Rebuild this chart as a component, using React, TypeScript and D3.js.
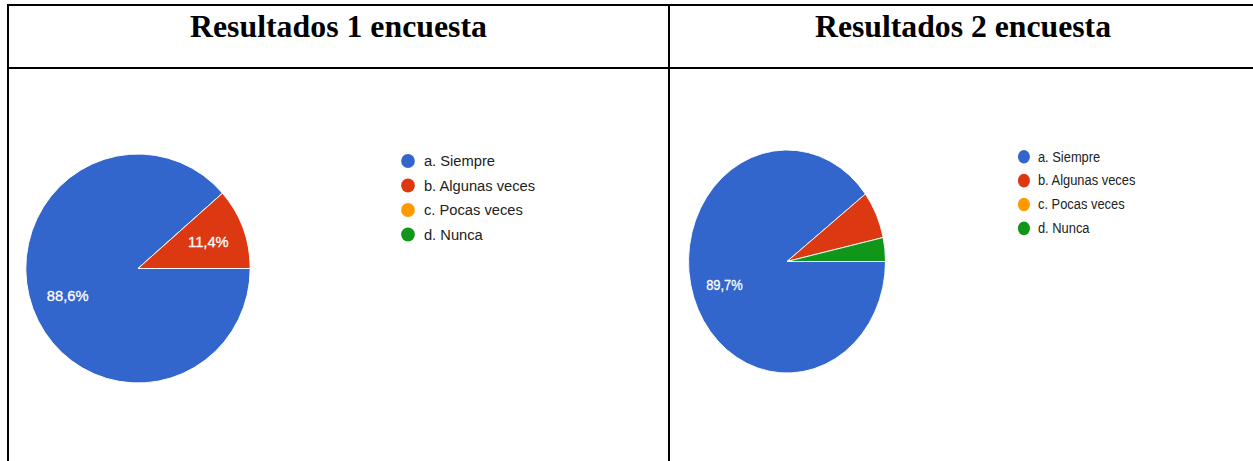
import React from "react";
import * as d3 from "d3";

const categories = ["a. Siempre", "b. Algunas veces", "c. Pocas veces", "d. Nunca"];
const colors = ["#3366cc", "#dc3912", "#ff9900", "#109618"];
const titles = ["Resultados 1 encuesta", "Resultados 2 encuesta"];
const survey1 = [31, 4, 0, 0];
const survey2 = [26, 2, 0, 1];

const W = 1253;
const H = 461;
const R = 114.5;

type ChartProps = { values: number[]; cx: number; cy: number; sx: number; sy: number };

function Pie({ values, cx, cy, sx, sy }: ChartProps) {
  const total = d3.sum(values);
  const pie = d3
    .pie<number>()
    .sort(null)
    .value((d) => d)
    .startAngle(Math.PI / 2)
    .endAngle(Math.PI / 2 + 2 * Math.PI);
  const arcs = pie(values);
  const arc = d3.arc<d3.PieArcDatum<number>>().innerRadius(0).outerRadius(R);
  const labelArc = d3.arc<d3.PieArcDatum<number>>().innerRadius(R * 0.67).outerRadius(R * 0.67);
  const fmt = (v: number) => ((v / total) * 100).toFixed(1).replace(".", ",") + "%";
  const legendY = d3.scalePoint<string>().domain(categories).range([-107.5, -107.5 + 24.5 * 3]);
  return (
    <g transform={`translate(${cx},${cy}) scale(${sx},${sy})`}>
      {arcs.map((a, i) =>
        a.value > 0 ? (
          <path key={i} d={arc(a) || ""} fill={colors[i]} stroke="#ffffff" strokeWidth={1} />
        ) : null
      )}
      {arcs.map((a, i) => {
        if (a.value / total < 0.1) return null;
        const [x, y] = labelArc.centroid(a);
        return (
          <text
            key={"l" + i}
            x={x}
            y={y}
            fill="#ffffff"
            stroke="#ffffff"
            strokeWidth={0.3}
            fontFamily="Arial, 'Liberation Sans', sans-serif"
            fontSize={15}
            textAnchor="middle"
            dominantBaseline="central"
          >
            {fmt(a.value)}
          </text>
        );
      })}
      {categories.map((c, i) => (
        <g key={"g" + i} transform={`translate(275.5,${legendY(c)})`}>
          <circle r={7} fill={colors[i]} />
          <text
            x={16.3}
            y={0}
            dominantBaseline="central"
            fill="#222222"
            fontFamily="Arial, 'Liberation Sans', sans-serif"
            fontSize={15}
          >
            {c}
          </text>
        </g>
      ))}
    </g>
  );
}

export default function App() {
  return (
    <svg
      width={W}
      height={H}
      style={{ position: "absolute", left: 0, top: 0, background: "#ffffff" }}
    >
      <rect x={0} y={0} width={W} height={H} fill="#ffffff" />
      <line x1={7} x2={W} y1={5} y2={5} stroke="#000" strokeWidth={2} />
      <line x1={7} x2={W} y1={68} y2={68} stroke="#000" strokeWidth={2} />
      <line x1={8} x2={8} y1={4} y2={H} stroke="#000" strokeWidth={2} />
      <line x1={669} x2={669} y1={4} y2={H} stroke="#000" strokeWidth={2} />
      <text
        x={338.5}
        y={37}
        textAnchor="middle"
        fontFamily="'Times New Roman', 'Liberation Serif', serif"
        fontWeight="bold"
        fontSize={31}
        textLength={297}
        lengthAdjust="spacingAndGlyphs"
      >
        {titles[0]}
      </text>
      <text
        x={963}
        y={37}
        textAnchor="middle"
        fontFamily="'Times New Roman', 'Liberation Serif', serif"
        fontWeight="bold"
        fontSize={31}
        textLength={296}
        lengthAdjust="spacingAndGlyphs"
      >
        {titles[1]}
      </text>
      <Pie values={survey1} cx={138} cy={268.5} sx={0.98} sy={1} />
      <Pie values={survey2} cx={787} cy={261.5} sx={0.86} sy={0.974} />
    </svg>
  );
}
